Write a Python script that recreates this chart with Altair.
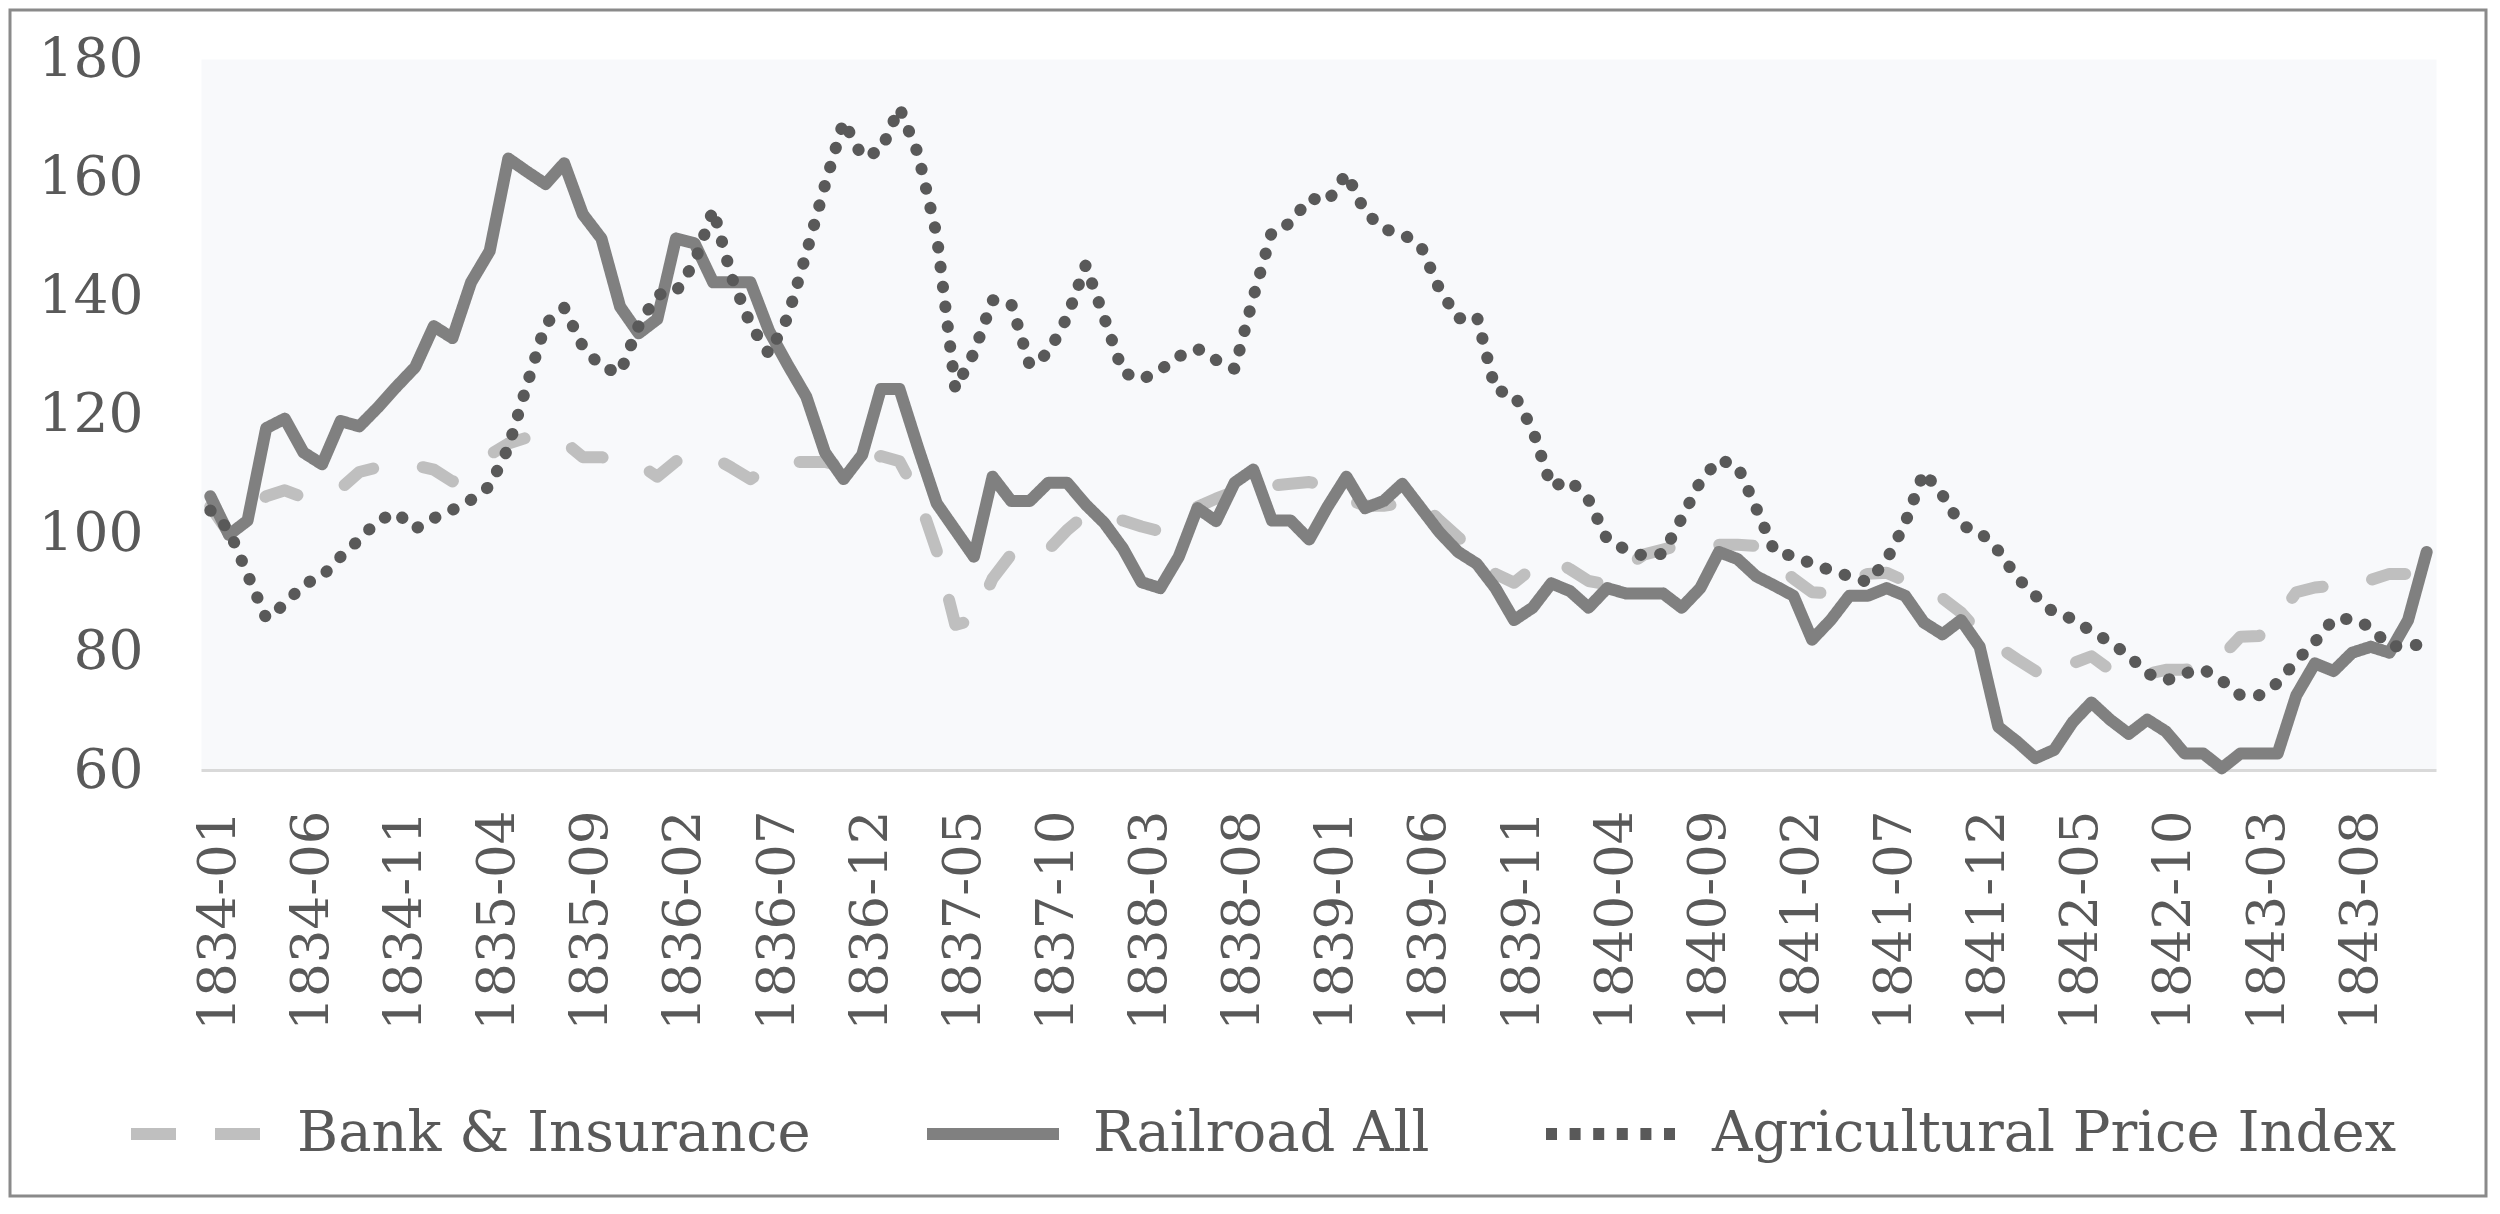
import altair as alt
import pandas as pd

# ---- data -------------------------------------------------------------
years = list(range(1834, 1844))
months = [f"{y}-{m:02d}" for y in years for m in range(1, 13)]
tick_labels = months[::5]
series_names = ["Bank & Insurance", "Railroad All", "Agricultural Price Index"]

bank = [
    104.5, 100.0, 103.5, 106.2, 107.2, 106.0, 106.6, 107.5, 110.3, 111.1,
    111.3, 111.4, 110.7, 108.7, 111.1, 113.2, 115.1, 116.1, 115.9, 115.4,
    112.8, 112.8, 112.1, 111.6, 109.5, 112.1, 113.0, 112.8, 111.0, 109.1,
    111.1, 112.0, 112.0, 112.0, 111.3, 111.1, 113.0, 112.1, 106.2, 97.0,
    84.5, 85.3, 92.3, 96.4, 98.4, 97.2, 100.5, 103.1, 103.1, 102.1,
    101.1, 100.3, 102.5, 104.4, 105.8, 107.0, 107.5, 108.0, 108.3, 108.6,
    107.9, 105.8, 104.6, 104.6, 105.0, 105.2, 102.1, 99.3, 96.4, 93.1,
    91.6, 94.1, 95.7, 93.9, 91.9, 91.3, 94.3, 96.4, 97.2, 98.0,
    98.0, 98.0, 98.0, 97.8, 94.8, 92.3, 90.0, 89.8, 91.9, 93.1,
    93.3, 91.9, 90.2, 89.0, 86.6, 83.1, 80.8, 78.7, 76.7, 75.0,
    78.0, 79.2, 76.9, 75.9, 76.2, 76.9, 76.9, 77.5, 79.2, 82.5,
    82.6, 85.7, 90.0, 90.8, 91.1, 91.5, 92.1, 93.1, 93.1, 93.5,
]

railroad = [
    106.2, 99.7, 102.1, 117.7, 119.3, 113.6, 111.6, 118.9, 118.0, 121.2,
    124.7, 128.0, 134.9, 132.9, 142.3, 147.6, 163.2, 161.0, 158.9, 162.4,
    153.8, 149.7, 138.2, 133.7, 136.1, 149.7, 148.9, 142.3, 142.3, 142.3,
    134.1, 128.4, 123.0, 113.6, 109.1, 113.2, 124.3, 124.3, 114.4, 105.0,
    100.5, 96.0, 109.5, 105.4, 105.4, 108.5, 108.5, 104.8, 101.7, 97.4,
    91.7, 90.7, 96.0, 104.2, 102.0, 108.5, 110.7, 102.1, 102.1, 98.9,
    104.5, 109.5, 104.2, 105.4, 108.3, 104.2, 100.1, 96.8, 94.8, 90.7,
    85.3, 87.4, 91.5, 90.2, 87.4, 90.7, 89.8, 89.8, 89.8, 87.4,
    90.7, 96.8, 95.6, 92.7, 91.1, 89.4, 82.0, 85.3, 89.4, 89.4,
    90.7, 89.4, 84.9, 82.9, 85.3, 80.8, 67.3, 64.8, 62.0, 63.4,
    68.1, 71.4, 68.5, 66.1, 68.5, 66.5, 62.8, 62.8, 60.3, 62.8,
    62.8, 62.8, 72.6, 78.0, 76.7, 79.8, 80.8, 79.8, 85.3, 96.8,
]

agri = [
    103.8, 100.5, 93.0, 85.6, 88.0, 91.3, 92.7, 96.0, 98.9, 102.1,
    103.4, 100.7, 102.5, 103.9, 105.6, 107.9, 114.4, 125.0, 135.3, 138.0,
    131.5, 128.0, 127.0, 135.0, 140.2, 140.7, 145.7, 154.6, 143.1, 135.2,
    130.2, 136.4, 147.2, 158.7, 169.5, 163.5, 164.5, 171.8, 164.0, 150.3,
    124.3, 130.4, 139.3, 138.7, 128.3, 130.4, 136.4, 145.2, 136.3, 127.1,
    125.9, 127.5, 129.8, 131.1, 129.2, 127.7, 139.8, 150.9, 152.3, 156.5,
    156.0, 160.7, 154.2, 151.3, 150.5, 148.4, 141.1, 136.2, 136.6, 124.1,
    123.4, 117.4, 107.8, 108.9, 105.6, 98.9, 97.2, 96.1, 96.5, 102.5,
    108.7, 112.4, 111.3, 104.2, 96.8, 96.1, 94.8, 93.7, 92.7, 91.7,
    95.4, 101.7, 110.3, 106.4, 101.3, 100.2, 97.0, 92.5, 89.4, 86.5,
    85.5, 83.4, 81.6, 79.3, 76.3, 75.1, 76.3, 77.0, 75.1, 72.6,
    72.6, 74.7, 78.4, 81.6, 85.5, 85.5, 84.1, 80.8, 81.0, 81.2,
]

y_ticks = [60, 80, 100, 120, 140, 160, 180]

rows = []
for name, vals in zip(series_names, [bank, railroad, agri]):
    for m, v in zip(months, vals):
        rows.append({"month": m, "value": v, "series": name})
df = pd.DataFrame(rows)

# ---- layout -----------------------------------------------------------
W, H = 2235, 711
PL, PT, PR, PB = 193, 51, 52, 428
FONT = "DejaVu Serif"
TXT = "#595959"
LW = 12
COLORS = ["#bfbfbf", "#808080", "#595959"]
LINE_DASH = [[34, 50], [1, 0], [0.5, 19.5]]      # drawn with round caps
LEGEND_DASH = [[45, 39], [1, 0], [11, 12.6]]     # legend symbols (butt caps)

legend = alt.Legend(
    title=None,
    orient="none",
    legendX=-76,
    legendY=1003,
    direction="horizontal",
    symbolType="stroke",
    symbolSize=132 * 132,
    symbolStrokeWidth=LW,
    labelFont=FONT,
    labelFontSize=56,
    labelColor=TXT,
    labelOffset=28,
    columnPadding=92,
    labelLimit=1000,
)

color = alt.Color(
    "series:N",
    scale=alt.Scale(domain=series_names, range=COLORS),
    legend=legend,
)
dash = alt.StrokeDash(
    "series:N",
    scale=alt.Scale(domain=series_names, range=LEGEND_DASH),
    legend=legend,
)

x = alt.X(
    "month:O",
    sort=months,
    axis=alt.Axis(
        values=tick_labels,
        title=None,
        labelAngle=270,
        labelPadding=40,
        labelOffset=8,
        labelFont=FONT,
        labelFontSize=53,
        labelColor=TXT,
        labelOverlap=False,
        labelLimit=500,
        ticks=False,
        domainColor="#d9d9d9",
        domainWidth=3,
        grid=False,
    ),
)
y = alt.Y(
    "value:Q",
    scale=alt.Scale(domain=[60, 180], nice=False, zero=False),
    axis=alt.Axis(
        values=y_ticks,
        title=None,
        grid=False,
        domain=False,
        ticks=False,
        labelPadding=58,
        labelFont=FONT,
        labelFontSize=55,
        labelColor=TXT,
    ),
)

base = alt.Chart(df)

# legend carrier: same encodings, but draws nothing (all rows filtered out)
legend_layer = (
    base.transform_filter("false")
    .mark_line(strokeWidth=LW)
    .encode(x=x, y=y, color=color, strokeDash=dash)
)

layers = []
for name, d in zip(series_names, LINE_DASH):
    layers.append(
        base.transform_filter(alt.datum.series == name)
        .mark_line(strokeWidth=LW, strokeCap="round", strokeJoin="round", strokeDash=d)
        .encode(x=x, y=y, color=color)
    )

frame = (
    alt.Chart(pd.DataFrame({"k": [0]}))
    .mark_rect(fill="transparent", stroke="#8a8a8a", strokeWidth=3)
    .encode(
        x=alt.value(-PL + 2),
        x2=alt.value(W + PR - 2),
        y=alt.value(-PT + 2),
        y2=alt.value(H + PB - 2),
    )
)

chart = (
    alt.layer(frame, legend_layer, *layers)
    .properties(
        width=W,
        height=H,
        autosize=alt.AutoSizeParams(type="none"),
        padding={"left": PL, "top": PT, "right": PR, "bottom": PB},
    )
    .configure(background="white")
    .configure_view(fill="#f8f9fb", stroke="transparent")
)

chart.save("out.html", embed_options={"renderer": "svg", "actions": False})
